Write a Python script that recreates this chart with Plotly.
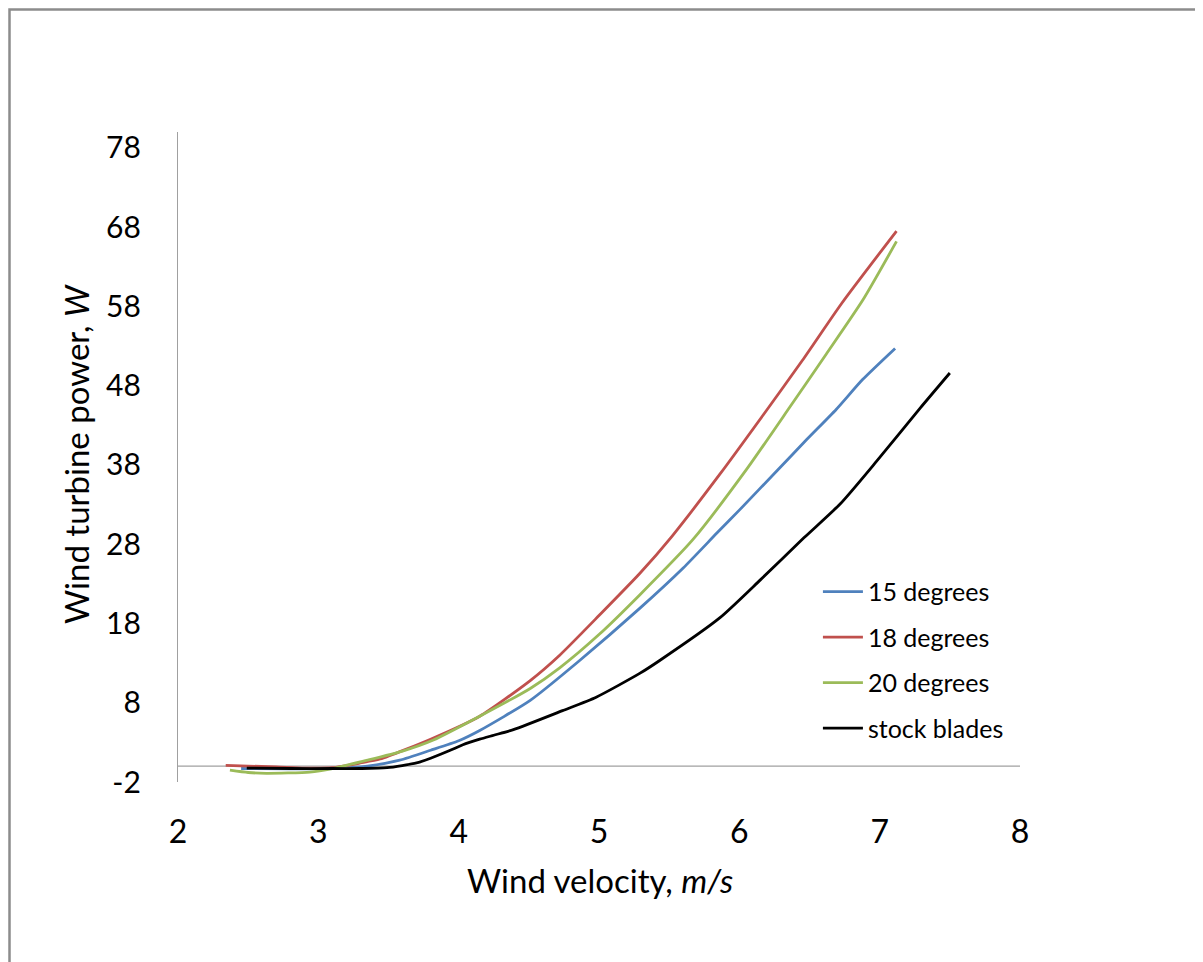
import plotly.graph_objects as go

# ---- data ----
v15 = [2.45, 2.8, 3.1, 3.35, 3.58, 3.8, 4.0, 4.15, 4.51, 4.86, 5.29, 5.6, 5.84, 6.0, 6.27, 6.48, 6.69, 6.88, 7.11]
p15 = [-0.3, -0.35, -0.3, 0.0, 0.75, 2.0, 3.2, 4.5, 8.3, 13.3, 19.9, 25.0, 29.4, 32.3, 37.3, 41.2, 45.0, 48.8, 52.7]

v18 = [2.34, 2.7, 2.9, 3.1, 3.3, 3.44, 3.8, 4.15, 4.51, 4.72, 5.0, 5.29, 5.52, 5.86, 6.17, 6.45, 6.73, 7.12]
p18 = [0.1, -0.1, -0.25, -0.2, 0.4, 0.9, 3.4, 6.3, 10.8, 14.0, 19.0, 24.3, 29.0, 36.8, 44.3, 51.2, 58.4, 67.5]

v20 = [2.37, 2.5, 2.63, 2.94, 3.1, 3.35, 3.6, 3.82, 4.15, 4.51, 4.72, 5.0, 5.29, 5.67, 6.05, 6.36, 6.62, 6.88, 7.12]
p20 = [-0.5, -0.8, -0.9, -0.75, -0.3, 0.75, 1.9, 3.3, 6.3, 9.8, 12.4, 16.6, 21.6, 28.6, 37.4, 45.3, 52.0, 58.8, 66.2]

vst = [2.49, 2.8, 3.1, 3.3, 3.49, 3.7, 3.8, 3.94, 4.03, 4.15, 4.25, 4.39, 4.74, 4.98, 5.29, 5.43, 5.86, 6.15, 6.46, 6.72, 6.98, 7.29, 7.5]
pst = [-0.25, -0.3, -0.3, -0.3, -0.2, 0.4, 1.0, 2.0, 2.7, 3.4, 3.9, 4.6, 7.0, 8.7, 11.7, 13.3, 18.7, 23.5, 28.8, 33.1, 38.5, 45.2, 49.6]

series_names = ["15 degrees", "18 degrees", "20 degrees", "stock blades"]
series_colors = ["#4F81BD", "#C0504D", "#9BBB59", "#000000"]
x_ticks = [2, 3, 4, 5, 6, 7, 8]
y_ticks = [-2, 8, 18, 28, 38, 48, 58, 68, 78]

FONT = "Lato, 'Open Sans', sans-serif"

fig = go.Figure()
for name, col, xs, ys in zip(series_names, series_colors, [v15, v18, v20, vst], [p15, p18, p20, pst]):
    fig.add_trace(go.Scatter(x=xs, y=ys, mode="lines", name=name, legendgroup=name,
                             line=dict(color=col, width=2.8, shape="spline", smoothing=0.6)))

fig.update_layout(
    width=1203, height=962,
    margin=dict(l=170, r=191, t=124, b=188, autoexpand=False),
    paper_bgcolor="white", plot_bgcolor="white",
    font=dict(family=FONT, color="black", size=24),
    showlegend=True,
    legend=dict(x=0.76, y=0.328, xanchor="left", yanchor="top",
                font=dict(size=25, family=FONT), tracegroupgap=10,
                bgcolor="rgba(0,0,0,0)", itemwidth=40),
)
fig.update_xaxes(range=[2, 8], tickvals=x_ticks, ticktext=[str(t) for t in x_ticks],
                 showgrid=False, zeroline=False, showline=False, ticks="",
                 ticklabelstandoff=28, tickfont=dict(size=32))
fig.update_yaxes(range=[-2, 80], tickvals=y_ticks, ticktext=[str(t) for t in y_ticks],
                 showgrid=False, zeroline=False, showline=True, linecolor="#A0A0A0", linewidth=1.3,
                 ticks="", ticklabelstandoff=30, tickfont=dict(size=30))

# horizontal axis line at y = 0
fig.add_shape(type="line", xref="x", yref="y", x0=2, x1=8, y0=0, y1=0,
              line=dict(color="#A0A0A0", width=1.3), layer="below")

# outer chart border
fig.add_shape(type="rect", xref="paper", yref="paper",
              x0=(1.5 - 170) / 842, x1=1.4, y0=-0.5, y1=(774 - 1.5) / 650,
              line=dict(color="#8C8C8C", width=2.5))

fig.add_annotation(text="Wind velocity, <i>m/s</i>", xref="paper", yref="paper",
                   x=(600 - 178) / 842, y=(782 - 880) / 650, xanchor="center", yanchor="middle",
                   showarrow=False, font=dict(size=33, family=FONT))
fig.add_annotation(text="Wind turbine power, <i>W</i>", xref="paper", yref="paper",
                   x=(76 - 178) / 842, y=(782 - 454) / 650, xanchor="center", yanchor="middle",
                   textangle=-90, showarrow=False, font=dict(size=33, family=FONT))

fig.write_html("out.html")
